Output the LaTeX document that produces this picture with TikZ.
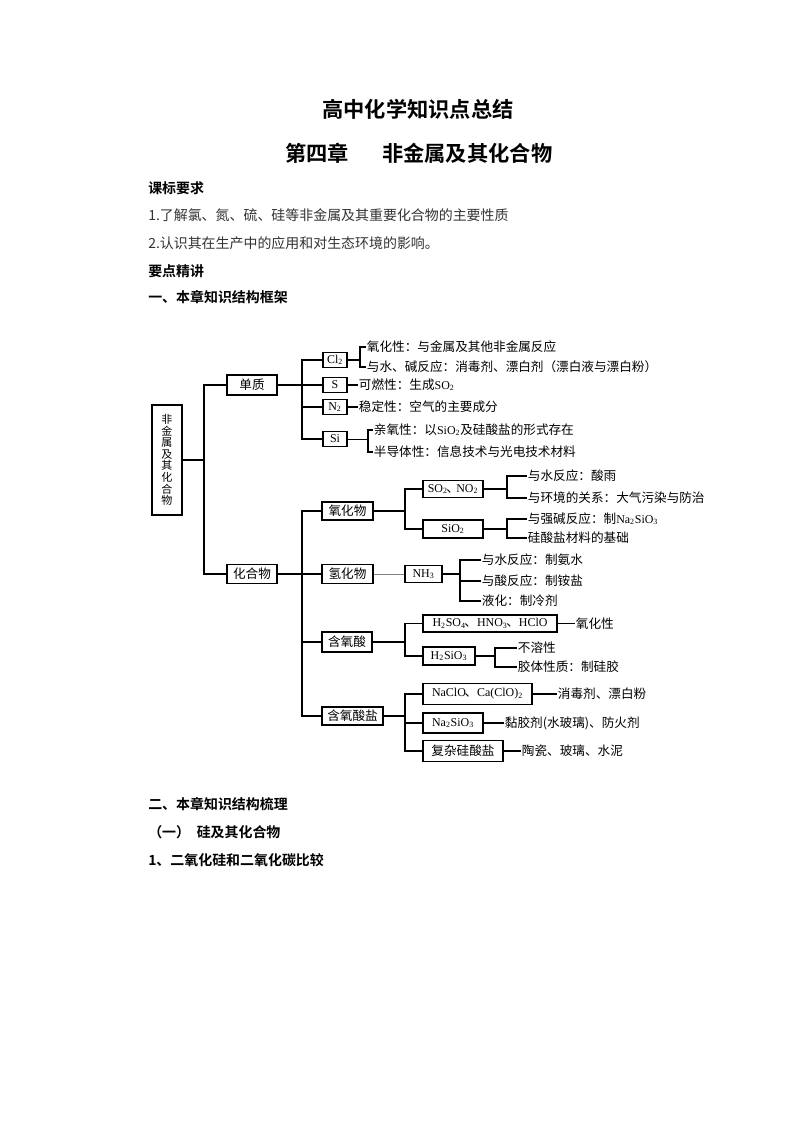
\documentclass[tikz,border=0pt]{standalone}
\usepackage{fontspec}
\setmainfont{Noto Sans CJK SC}[BoldFont={Noto Sans CJK SC Bold}]
\newfontfamily\tms{Liberation Serif}
\usetikzlibrary{calc}
\newcommand\dgfont{\fontsize{9.5}{11}\selectfont}
\newcommand\fml[1]{{\tms\fontsize{9}{10}\selectfont #1}}

\begin{document}
\begin{tikzpicture}[x=0.75bp,y=-0.75bp,
    box/.style 2 args={draw,line width=1.1pt,minimum width=#1*0.75bp,minimum height=#2*0.75bp,inner sep=0pt,font=\dgfont},
    txt/.style={anchor=west,inner sep=0.5pt,font=\dgfont},
    head/.style={anchor=west,inner sep=0pt,font=\fontsize{10.5}{12}\selectfont\bfseries},
    body/.style={anchor=west,inner sep=0pt,font=\fontsize{10.5}{12}\selectfont,text=black!80},
    ln/.style={line width=0.9pt}]
    \fill[white] (0,0) rectangle (793,1122);
    \useasboundingbox (0,0) rectangle (793,1122);
    % page text
    \node[at={(418,109)},font=\fontsize{16}{18}\selectfont\bfseries] (title) {高中化学知识点总结};
    \node[at={(285,153)},anchor=west,inner sep=0pt,font=\fontsize{16}{18}\selectfont\bfseries] (chap) {第四章\hspace{25pt}非金属及其化合物};
    \node[head,at={(148,188)}] (kb) {课标要求};
    \node[body,at={(148,215)}] (req1) {1.了解氯、氮、硫、硅等非金属及其重要化合物的主要性质};
    \node[body,at={(148,243)}] (req2) {2.认识其在生产中的应用和对生态环境的影响。};
    \node[head,at={(148,271)}] (yd) {要点精讲};
    \node[head,at={(148,297)}] (sec1) {一、本章知识结构框架};
    \node[head,at={(148,804)}] (sec2) {二、本章知识结构梳理};
    \node[head,at={(148,832)}] (sub1) {（一）\hspace{5pt}硅及其化合物};
    \node[head,at={(148,860)}] (item1) {1、二氧化硅和二氧化碳比较};
    % left part
    \node[box={30}{110},at={(167,460)},align=center,font=\fontsize{8.3}{8.7}\selectfont] (fjs) {非\\金\\属\\及\\其\\化\\合\\物};
    \node[box={50}{20},at={(252,385)}] (dz) {单质};
    \node[box={50}{19},at={(252,574)}] (hhw) {化合物};
    \coordinate (ja) at (204,460);
    \draw[ln] (fjs) -- (ja);
    \draw[ln] (dz.west) -| (ja) |- (hhw.west);
    % elements
    \node[box={24}{15},at={(335,360)}] (cl) {\fml{Cl\textsubscript{2}}};
    \node[box={24}{15},at={(335,385)}] (s) {\fml{S}};
    \node[box={24}{15},at={(335,407)}] (n) {\fml{N\textsubscript{2}}};
    \node[box={24}{15},at={(335,439)}] (si) {\fml{Si}};
    \node[txt,at={(366,347)}] (cl1) {氧化性：与金属及其他非金属反应};
    \node[txt,at={(366,367)}] (cl2) {与水、碱反应：消毒剂、漂白剂（漂白液与漂白粉）};
    \node[txt,at={(358,385)}] (s1) {可燃性：生成\fml{SO\textsubscript{2}}};
    \node[txt,at={(358,407)}] (n1) {稳定性：空气的主要成分};
    \node[txt,at={(373,430)}] (si1) {亲氧性：以\fml{SiO\textsubscript{2}}及硅酸盐的形式存在};
    \node[txt,at={(373,452)}] (si2) {半导体性：信息技术与光电技术材料};
    \coordinate (jb) at (302,385);
    \coordinate (jc) at (360,360);
    \coordinate (jd) at (368,439);
    \draw[ln] (dz) -- (s);
    \draw[ln] (cl.west) -| (jb) |- (si.west);
    \draw[ln] (n.west) -- (n.west -| jb);
    \draw[ln] (cl) -- (jc);
    \draw[ln] (cl1.west) -| (jc) |- (cl2.west);
    \draw[ln] (s) -- (s1);
    \draw[ln] (n) -- (n1);
    \draw[line width=0.6pt] (si) -- (jd);
    \draw[ln] (si1.west) -| (jd) |- (si2.west);
    % compounds
    \node[box={51}{18},at={(347.5,511)}] (yhw) {氧化物};
    \node[box={51}{19},at={(347.5,574)}] (qhw) {氢化物};
    \node[box={50}{20},at={(347,642)}] (hys) {含氧酸};
    \node[box={61}{18},at={(352.5,716)}] (hysy) {含氧酸盐};
    \coordinate (je) at (302,574);
    \draw[ln] (hhw) -- (qhw);
    \draw[ln] (yhw.west) -| (je) |- (hysy.west);
    \draw[ln] (hys.west) -- (hys.west -| je);
    % oxides
    \node[box={60}{17},at={(453,489)}] (so2) {\fml{SO\textsubscript{2}}\kern-1pt、\kern-2pt\fml{NO\textsubscript{2}}};
    \node[box={60}{18},at={(453,529)}] (sio2) {\fml{SiO\textsubscript{2}}};
    \node[txt,at={(527,476)}] (so2a) {与水反应：酸雨};
    \node[txt,at={(527,498)}] (so2b) {与环境的关系：大气污染与防治};
    \node[txt,at={(527,519)}] (sio2a) {与强碱反应：制\fml{Na\textsubscript{2}SiO\textsubscript{3}}};
    \node[txt,at={(527,538)}] (sio2b) {硅酸盐材料的基础};
    \coordinate (jf) at (405,511);
    \coordinate (jg) at (507,489);
    \coordinate (jh) at (507,529);
    \draw[ln] (yhw) -- (jf);
    \draw[ln] (so2.west) -| (jf) |- (sio2.west);
    \draw[ln] (so2) -- (jg);
    \draw[ln] (so2a.west) -| (jg) |- (so2b.west);
    \draw[ln] (sio2) -- (jh);
    \draw[ln] (sio2a.west) -| (jh) |- (sio2b.west);
    % hydrides
    \node[box={37}{17},at={(423.5,574)}] (nh3) {\fml{NH\textsubscript{3}}};
    \node[txt,at={(481,560)}] (nh3a) {与水反应：制氨水};
    \node[txt,at={(481,581)}] (nh3b) {与酸反应：制铵盐};
    \node[txt,at={(481,601)}] (nh3c) {液化：制冷剂};
    \coordinate (ji) at (460,574);
    \draw[line width=0.5pt,gray] (qhw) -- (nh3);
    \draw[ln] (nh3) -- (ji);
    \draw[ln] (nh3a.west) -| (ji) |- (nh3c.west);
    \draw[ln] (nh3b.west) -- (nh3b.west -| ji);
    % oxyacids
    \node[box={134}{17},at={(490,623.5)}] (hso) {\fml{H\textsubscript{2}SO\textsubscript{4}}\kern-1pt、\fml{HNO\textsubscript{3}}\kern-1pt、\fml{HClO}};
    \node[box={52}{18},at={(449,656)}] (hsio) {\fml{H\textsubscript{2}SiO\textsubscript{3}}};
    \node[txt,at={(575,623.5)}] (hsoa) {氧化性};
    \node[txt,at={(517,648)}] (hsioa) {不溶性};
    \node[txt,at={(517,667)}] (hsiob) {胶体性质：制硅胶};
    \coordinate (jj) at (405,642);
    \coordinate (jk) at (495,656);
    \draw[ln] (hys) -- (jj);
    \draw[ln] (hso.west) -| (jj) |- (hsio.west);
    \draw[ln] (hso) -- (hsoa);
    \draw[ln] (hsio) -- (jk);
    \draw[ln] (hsioa.west) -| (jk) |- (hsiob.west);
    % oxyacid salts
    \node[box={109}{21},at={(477.5,694)}] (naclo) {\fml{NaClO}\kern-1pt、\fml{Ca(ClO)\textsubscript{2}}};
    \node[box={60}{20},at={(453,723)}] (nasio) {\fml{Na\textsubscript{2}SiO\textsubscript{3}}};
    \node[box={80}{21},at={(463,751)}] (fz) {复杂硅酸盐};
    \node[txt,at={(557,694)}] (nacloa) {消毒剂、漂白粉};
    \node[txt,at={(504,723)}] (nasioa) {黏胶剂(水玻璃)、防火剂};
    \node[txt,at={(521,751)}] (fza) {陶瓷、玻璃、水泥};
    \coordinate (jl) at (405,716);
    \draw[ln] (hysy) -- (jl);
    \draw[ln] (naclo.west) -| (jl) |- (fz.west);
    \draw[ln] (nasio.west) -- (nasio.west -| jl);
    \draw[ln] (naclo) -- (nacloa);
    \draw[ln] (nasio) -- (nasioa);
    \draw[ln] (fz) -- (fza);
\end{tikzpicture}
\end{document}
